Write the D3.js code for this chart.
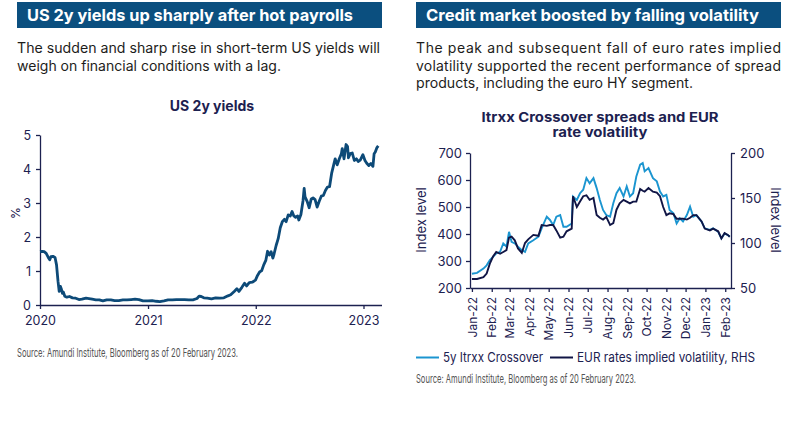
<!DOCTYPE html>
<html><head><meta charset="utf-8">
<script src="https://cdn.jsdelivr.net/npm/d3@7"></script>
<style>
html,body{margin:0;padding:0;background:#fff;}
svg{display:block;font-family:Inter,"Noto Sans",sans-serif;}
</style></head>
<body><svg id="c" width="800" height="431"></svg>
<script>
// ---------- DATA ----------
const usDates = ["2020-01-01","2020-01-08","2020-01-15","2020-01-22","2020-01-29","2020-02-03","2020-02-07","2020-02-14","2020-02-21","2020-02-26","2020-03-02","2020-03-06","2020-03-10","2020-03-13","2020-03-17","2020-03-20","2020-03-25","2020-04-01","2020-04-10","2020-04-20","2020-05-01","2020-05-12","2020-05-22","2020-06-05","2020-06-15","2020-06-26","2020-07-08","2020-07-20","2020-08-01","2020-08-14","2020-08-28","2020-09-10","2020-09-24","2020-10-08","2020-10-22","2020-11-05","2020-11-18","2020-12-01","2020-12-15","2021-01-01","2021-01-15","2021-01-29","2021-02-10","2021-02-24","2021-03-10","2021-03-24","2021-04-07","2021-04-21","2021-05-05","2021-05-19","2021-06-02","2021-06-16","2021-06-23","2021-06-30","2021-07-09","2021-07-21","2021-08-04","2021-08-18","2021-09-01","2021-09-15","2021-09-29","2021-10-08","2021-10-20","2021-10-29","2021-11-05","2021-11-15","2021-11-24","2021-12-01","2021-12-10","2021-12-20","2021-12-31","2022-01-07","2022-01-14","2022-01-21","2022-01-28","2022-02-04","2022-02-10","2022-02-16","2022-02-22","2022-02-28","2022-03-04","2022-03-11","2022-03-18","2022-03-25","2022-04-01","2022-04-08","2022-04-14","2022-04-21","2022-04-28","2022-05-04","2022-05-10","2022-05-16","2022-05-23","2022-05-27","2022-06-03","2022-06-10","2022-06-14","2022-06-17","2022-06-24","2022-07-01","2022-07-08","2022-07-14","2022-07-21","2022-07-28","2022-08-04","2022-08-11","2022-08-18","2022-08-25","2022-09-01","2022-09-08","2022-09-15","2022-09-22","2022-09-27","2022-10-04","2022-10-11","2022-10-18","2022-10-21","2022-10-27","2022-11-03","2022-11-08","2022-11-11","2022-11-17","2022-11-24","2022-12-01","2022-12-08","2022-12-14","2022-12-21","2022-12-30","2023-01-06","2023-01-12","2023-01-19","2023-01-26","2023-02-02","2023-02-06","2023-02-10","2023-02-15","2023-02-20"];
const usYield = [1.57,1.58,1.57,1.52,1.40,1.33,1.42,1.43,1.40,1.18,0.70,0.40,0.55,0.48,0.34,0.38,0.26,0.23,0.25,0.21,0.20,0.16,0.17,0.20,0.19,0.17,0.15,0.15,0.12,0.15,0.15,0.13,0.13,0.15,0.15,0.16,0.17,0.16,0.12,0.12,0.13,0.11,0.10,0.12,0.15,0.15,0.16,0.16,0.16,0.15,0.15,0.19,0.26,0.25,0.21,0.20,0.18,0.21,0.20,0.21,0.27,0.30,0.40,0.48,0.40,0.52,0.64,0.56,0.66,0.67,0.73,0.87,0.97,1.01,1.18,1.31,1.58,1.47,1.57,1.38,1.50,1.75,1.95,2.27,2.45,2.52,2.45,2.65,2.62,2.75,2.62,2.58,2.62,2.50,2.66,3.06,3.43,3.18,3.05,2.86,3.12,3.15,3.10,2.88,3.05,3.20,3.22,3.37,3.47,3.48,3.87,4.12,4.30,4.12,4.30,4.45,4.60,4.30,4.72,4.66,4.33,4.45,4.47,4.25,4.30,4.22,4.26,4.42,4.25,4.17,4.10,4.16,4.08,4.45,4.50,4.62,4.68];
const usYTicks = [0,1,2,3,4,5];
const usXTicks = ["2020","2021","2022","2023"];

const crDates = ["2022-01-01","2022-01-09","2022-01-19","2022-01-24","2022-01-29","2022-02-03","2022-02-08","2022-02-14","2022-02-19","2022-02-24","2022-02-28","2022-03-04","2022-03-09","2022-03-14","2022-03-20","2022-03-25","2022-03-30","2022-04-07","2022-04-15","2022-04-20","2022-04-28","2022-05-03","2022-05-08","2022-05-13","2022-05-19","2022-05-24","2022-05-29","2022-06-06","2022-06-08","2022-06-14","2022-06-19","2022-06-24","2022-06-29","2022-07-04","2022-07-10","2022-07-15","2022-07-20","2022-07-25","2022-07-30","2022-08-05","2022-08-10","2022-08-15","2022-08-20","2022-08-26","2022-08-31","2022-09-05","2022-09-10","2022-09-15","2022-09-21","2022-09-25","2022-09-28","2022-10-04","2022-10-11","2022-10-17","2022-10-22","2022-10-27","2022-11-01","2022-11-06","2022-11-12","2022-11-17","2022-11-22","2022-11-27","2022-12-03","2022-12-08","2022-12-13","2022-12-18","2022-12-26","2022-12-31","2023-01-08","2023-01-13","2023-01-21","2023-01-26","2023-01-31","2023-02-05","2023-02-08"];
const crossover = [253,256,272,284,303,315,328,334,365,353,408,371,365,353,340,334,365,377,390,421,464,452,433,464,470,427,427,439,539,526,551,564,607,588,607,570,526,489,470,464,514,551,570,539,576,539,551,613,657,663,632,644,607,595,557,539,545,489,477,439,458,446,470,501,464,470,446,421,415,421,408,384,402,396,390];
const eurVol = [60,60,62,66,77,85,90,88,90,92,106,107,103,94,89,100,104,109,108,120,119,120,120,114,106,107,113,116,152,140,146,152,153,148,150,131,128,126,129,120,122,137,144,148,146,144,146,146,160,158,157,161,157,156,152,140,131,133,132,127,127,127,126,128,131,131,124,116,114,116,113,105,111,109,107];
const crLeftTicks = [200,300,400,500,600,700];
const crRightTicks = [50,100,150,200];
const legendLabels = ["5y Itrxx Crossover","EUR rates implied volatility, RHS"];

// ---------- DRAW ----------
const svg = d3.select("#c");
svg.append("rect").attr("width",800).attr("height",431).attr("fill","#fff");
const parse = d3.timeParse("%Y-%m-%d");
const NAVY = "#1c2150", HEAD = "#0b4f7f", TXT = "#1d1d1b";

// headers
[[17,"US 2y yields up sharply after hot payrolls",326],[416,"Credit market boosted by falling volatility",333]].forEach(([x,t,w])=>{
  svg.append("rect").attr("x",x).attr("y",2).attr("width",365).attr("height",26).attr("fill",HEAD);
  svg.append("text").attr("x",x+10).attr("y",21).attr("fill","#fff").attr("font-weight",700)
    .attr("font-size",16.5).attr("textLength",w).attr("lengthAdjust","spacingAndGlyphs").text(t);
});
// body text
const body = (x,y,t,w,adj)=>{const s=svg.append("text").attr("x",x).attr("y",y).attr("fill",TXT).attr("font-size",14).text(t);
  if(w) s.attr("textLength",w).attr("lengthAdjust",adj||"spacingAndGlyphs"); return s;};
body(17,53,"The sudden and sharp rise in short-term US yields will",363);
body(17,71,"weigh on financial conditions with a lag.",264);
body(416,53,"The peak and subsequent fall of euro rates implied",365,"spacing");
body(416,71,"volatility supported the recent performance of spread",365,"spacing");
body(416,88,"products, including the euro HY segment.",277);

// chart titles
svg.append("text").attr("x",212).attr("y",111).attr("text-anchor","middle").attr("fill",NAVY)
  .attr("font-weight",700).attr("font-size",14).text("US 2y yields");
svg.append("text").attr("x",600).attr("y",122).attr("text-anchor","middle").attr("fill",NAVY)
  .attr("font-weight",700).attr("font-size",13).attr("textLength",237).attr("lengthAdjust","spacingAndGlyphs").text("Itrxx Crossover spreads and EUR");
svg.append("text").attr("x",600).attr("y",137).attr("text-anchor","middle").attr("fill",NAVY)
  .attr("font-weight",700).attr("font-size",13).attr("textLength",95).attr("lengthAdjust","spacingAndGlyphs").text("rate volatility");

function styleAxis(g){
  g.selectAll("path,line").attr("stroke",NAVY).attr("stroke-width",1.3);
  g.selectAll("text").attr("fill",NAVY).attr("font-family","Inter, sans-serif");
}

// ---- Left chart ----
const x1 = d3.scaleTime().domain([parse("2020-01-01"),parse("2023-03-03")]).range([40,381.5]);
const y1 = d3.scaleLinear().domain([0,5]).range([305,135]);
const gY1 = svg.append("g").attr("transform","translate(40,0)")
  .call(d3.axisLeft(y1).tickValues(usYTicks).tickSize(4).tickSizeOuter(0).tickPadding(5).tickFormat(d3.format("d")));
gY1.selectAll("text").attr("font-size",12.5);
styleAxis(gY1);
const gX1 = svg.append("g").attr("transform","translate(0,305)")
  .call(d3.axisBottom(x1).tickValues(usXTicks.map(d=>parse(d+"-01-01"))).tickSize(4).tickSizeOuter(0).tickPadding(7).tickFormat(d3.timeFormat("%Y")));
gX1.selectAll("text").attr("font-size",12.5);
styleAxis(gX1);
svg.append("text").attr("transform","translate(20,213) rotate(-90)").attr("text-anchor","middle")
  .attr("fill",NAVY).attr("font-size",12).text("%");
svg.append("path").datum(usDates.map((d,i)=>[parse(d),usYield[i]]))
  .attr("fill","none").attr("stroke","#0d4a78").attr("stroke-width",2.8).attr("stroke-linejoin","round")
  .attr("d",d3.line().x(d=>x1(d[0])).y(d=>y1(d[1])));

// ---- Right chart ----
const x2 = d3.scaleTime().domain([parse("2021-12-29"),parse("2023-02-10")]).range([470,731]);
const yL = d3.scaleLinear().domain([200,700]).range([288,153]);
const yR = d3.scaleLinear().domain([50,200]).range([288,153]);
const gL = svg.append("g").attr("transform","translate(470,0)")
  .call(d3.axisLeft(yL).tickValues(crLeftTicks).tickSize(4).tickSizeOuter(0).tickPadding(4));
gL.selectAll("text").attr("font-size",13);
styleAxis(gL);
const gR = svg.append("g").attr("transform","translate(731,0)")
  .call(d3.axisRight(yR).tickValues(crRightTicks).tickSize(4).tickSizeOuter(0).tickPadding(5));
gR.selectAll("text").attr("font-size",13);
styleAxis(gR);
const months = d3.timeMonth.range(parse("2022-01-01"),parse("2023-02-02"));
const gX2 = svg.append("g").attr("transform","translate(0,288)")
  .call(d3.axisBottom(x2).tickValues(months).tickSize(4).tickSizeOuter(0).tickFormat(d3.timeFormat("%b-%y")));
gX2.selectAll("text").attr("font-size",12).attr("transform","rotate(-90)")
  .attr("text-anchor","end").attr("x",-9).attr("y",0).attr("dy","0.35em");
styleAxis(gX2);
svg.append("text").attr("transform","translate(426,220) rotate(-90)").attr("text-anchor","middle")
  .attr("fill",NAVY).attr("font-size",13).text("Index level");
svg.append("text").attr("transform","translate(771,220) rotate(90)").attr("text-anchor","middle")
  .attr("fill",NAVY).attr("font-size",13).text("Index level");
const crData = crDates.map((d,i)=>[parse(d),crossover[i],eurVol[i]]);
svg.append("path").datum(crData).attr("fill","none").attr("stroke","#1b95d0").attr("stroke-width",1.9)
  .attr("d",d3.line().x(d=>x2(d[0])).y(d=>yL(d[1])));
svg.append("path").datum(crData).attr("fill","none").attr("stroke","#101545").attr("stroke-width",1.9)
  .attr("d",d3.line().x(d=>x2(d[0])).y(d=>yR(d[2])));

// legend
[[416,"#1b95d0",legendLabels[0],100],[550,"#101545",legendLabels[1],178]].forEach(([x,c,t,w])=>{
  svg.append("line").attr("x1",x).attr("x2",x+23).attr("y1",357.5).attr("y2",357.5).attr("stroke",c).attr("stroke-width",2);
  svg.append("text").attr("x",x+27).attr("y",362).attr("fill",NAVY).attr("font-size",13)
    .attr("textLength",w).attr("lengthAdjust","spacingAndGlyphs").text(t);
});

// sources
const src = "Source: Amundi Institute, Bloomberg as of 20 February 2023.";
svg.append("text").attr("x",17).attr("y",357).attr("fill","#555").attr("font-size",12)
  .attr("textLength",221).attr("lengthAdjust","spacingAndGlyphs").text(src);
svg.append("text").attr("x",416).attr("y",383).attr("fill","#555").attr("font-size",12)
  .attr("textLength",220).attr("lengthAdjust","spacingAndGlyphs").text(src);
</script></body></html>
